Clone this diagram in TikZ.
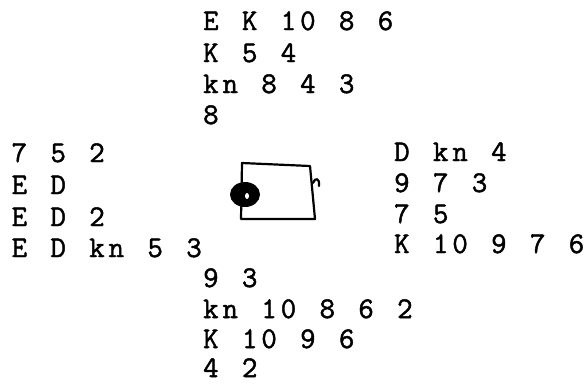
\documentclass[tikz,border=0pt]{standalone}
\usepackage{fontspec}
\newfontfamily\typewriter[FakeBold=1.6]{Latin Modern Mono}
\newlength\pitch
\setlength\pitch{19.4bp}
\ExplSyntaxOn
\NewDocumentCommand \typeline { m }
  { \str_map_inline:nn {#1} { \makebox[\pitch][c]{##1} } }
\ExplSyntaxOff

\begin{document}
\begin{tikzpicture}
	[x=1bp, y=-1bp,
	every node/.style={anchor=base west,inner sep=0pt,
		font=\typewriter\fontsize{30bp}{30bp}\selectfont},
	pen/.style={line width=2.2bp,line join=round,line cap=round}]
	\useasboundingbox (0,0) rectangle (586,385);
	% north
	\node (n1) at (201,30) {\typeline{E K 10 8 6}};
	\node (n2) at (201,62) {\typeline{K 5 4}};
	\node (n3) at (201,93) {\typeline{kn 8 4 3}};
	\node (n4) at (201,124) {\typeline{8}};
	% west
	\node (w1) at (9.5,162) {\typeline{7 5 2}};
	\node (w2) at (9.5,194) {\typeline{E D}};
	\node (w3) at (9.5,226) {\typeline{E D 2}};
	\node (w4) at (9.5,257) {\typeline{E D kn 5 3}};
	% east
	\node (e1) at (392,161) {\typeline{D kn 4}};
	\node (e2) at (392,192) {\typeline{9 7 3}};
	\node (e3) at (392,223) {\typeline{7 5}};
	\node (e4) at (392,253) {\typeline{K 10 9 7 6}};
	% south
	\node (s1) at (201,287) {\typeline{9 3}};
	\node (s2) at (201,318) {\typeline{kn 10 8 6 2}};
	\node (s3) at (201,348) {\typeline{K 10 9 6}};
	\node (s4) at (201,377) {\typeline{4 2}};
	% table
	\coordinate (tl) at (242,163);
	\coordinate (tr) at (310,166);
	\coordinate (br) at (315,219);
	\coordinate (bl) at (241,219);
	\draw [pen] (bl) -- (tl) -- (tr) -- (br) -- (bl);
	\draw [pen] (313,183) .. controls (315,177) and (320,178) .. (319,186);
	\fill (245,194.5) ellipse [x radius=15bp, y radius=12.5bp];
	\fill [white] (247,196) ellipse [x radius=2bp, y radius=3bp];
	\end{tikzpicture}
\end{document}
